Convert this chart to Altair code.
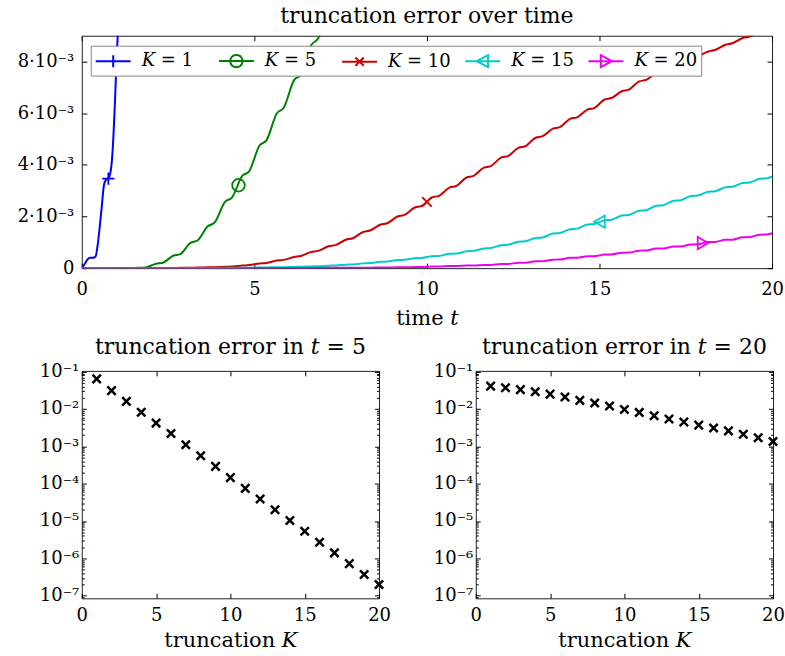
import math
import altair as alt
import pandas as pd

FONT = "DejaVu Serif"
BLACK = "#000000"

# ---------------- data (top panel, error in units of 1e-3) ----------------
series_names = ["𝐾 = 1", "𝐾 = 5", "𝐾 = 10", "𝐾 = 15", "𝐾 = 20"]
series_colors = ["#0000ff", "#008000", "#cc0000", "#00cccc", "#ee00ee"]

k1_t = [0, 0.08, 0.16, 0.24, 0.32, 0.40, 0.46, 0.52, 0.58, 0.64, 0.70, 0.77,
        0.83, 0.88, 0.92, 0.96, 1.00, 1.04, 1.10]
k1_err = [0, 0.15, 0.33, 0.40, 0.40, 0.45, 0.9, 1.6, 2.4, 3.2, 3.42, 3.47,
          3.7, 4.3, 5.2, 6.4, 7.8, 9.0, 10.8]

# sample times: start / end of each plateau of the oscillation (period 0.5)
plateau_t = [0.0] + [round(0.5 * k + off, 2) for k in range(40) for off in (0.15, 0.35)] + [20.0]

k5_err = [0, 0, 0, 0, 0, 0.002, 0.004, 0.015, 0.03, 0.17, 0.21, 0.48, 0.54,
          0.98, 1.07, 1.62, 1.77, 2.57, 2.73, 3.57, 3.75, 4.75, 4.95, 5.99, 6.21,
          7.28, 7.5, 8.64, 8.9, 10.1, 10.35]

k10_err = [0, 0, 0, 0, 0, 0, 0, 0.001, 0.002, 0.004, 0.006, 0.009, 0.011,
           0.018, 0.022, 0.032, 0.038, 0.055, 0.065, 0.10, 0.12, 0.18, 0.20,
           0.30, 0.32, 0.43, 0.47, 0.63, 0.67, 0.85, 0.89, 1.10, 1.16, 1.40, 1.46,
           1.68, 1.74, 2.00, 2.06, 2.35, 2.41, 2.74, 2.80, 3.12, 3.18, 3.51, 3.57,
           3.89, 3.95, 4.28, 4.34, 4.66, 4.72, 5.05, 5.11, 5.40, 5.46, 5.78, 5.84,
           6.14, 6.20, 6.53, 6.59, 6.85, 6.91, 7.23, 7.29, 7.56, 7.62, 7.87, 7.93,
           8.14, 8.20, 8.39, 8.45, 8.65, 8.71, 8.91, 8.97, 9.17, 9.23, 9.30]

k15_err = [0, 0, 0, 0, 0, 0, 0, 0, 0, 0, 0, 0.001, 0.002, 0.004, 0.005,
           0.007, 0.009, 0.011, 0.013, 0.017, 0.019, 0.024, 0.027, 0.033, 0.037,
           0.048, 0.052, 0.067, 0.073, 0.097, 0.103, 0.136, 0.144, 0.185, 0.195,
           0.245, 0.255, 0.315, 0.325, 0.385, 0.395, 0.465, 0.475, 0.555, 0.565,
           0.65, 0.67, 0.76, 0.78, 0.89, 0.91, 1.02, 1.04, 1.17, 1.19, 1.34, 1.36,
           1.51, 1.53, 1.69, 1.71, 1.85, 1.87, 2.04, 2.06, 2.22, 2.24, 2.42, 2.44,
           2.61, 2.63, 2.79, 2.81, 2.96, 2.98, 3.13, 3.15, 3.30, 3.32, 3.46, 3.48,
           3.55]

k20_err = [0, 0, 0, 0, 0, 0, 0, 0, 0, 0, 0, 0, 0, 0, 0, 0, 0, 0, 0, 0, 0,
           0.002, 0.002, 0.004, 0.004, 0.006, 0.006, 0.008, 0.008, 0.011, 0.011,
           0.015, 0.015, 0.020, 0.020, 0.026, 0.026, 0.034, 0.034, 0.045, 0.045,
           0.060, 0.060, 0.079, 0.081, 0.099, 0.101, 0.124, 0.126, 0.159, 0.161,
           0.209, 0.211, 0.268, 0.272, 0.328, 0.332, 0.398, 0.402, 0.458, 0.462,
           0.528, 0.532, 0.598, 0.602, 0.678, 0.682, 0.758, 0.762, 0.838, 0.842,
           0.918, 0.922, 1.008, 1.012, 1.098, 1.102, 1.198, 1.202, 1.298, 1.302,
           1.35]

marker_t = [0.77, 4.54, 10.0, 15.0, 18.0]
marker_err = [3.47, 3.21, 2.57, 1.80, 0.97]

# ---------------- data (bottom panels) ----------------
K_values = list(range(1, 21))
err_t5 = [0.064, 0.031, 0.016, 0.0082, 0.0042, 0.0022, 0.0011, 0.00056, 0.00029,
          0.000145, 7.5e-5, 3.9e-5, 2.0e-5, 1.03e-5, 5.3e-6, 2.7e-6, 1.4e-6,
          7.2e-7, 3.7e-7, 2.0e-7]
err_t20 = [0.041, 0.037, 0.033, 0.029, 0.025, 0.021, 0.017, 0.0145, 0.012,
           0.0097, 0.0081, 0.0066, 0.0054, 0.0045, 0.0037, 0.0031, 0.0026,
           0.0021, 0.0017, 0.00135]

x_tick_values = [0, 5, 10, 15, 20]
y_tick_values_top = [0, 2, 4, 6, 8]

# ---------------- styles ----------------
PLUS = "M-1,0L1,0M0,-1L0,1"
XSHAPE = "M-1,-1L1,1M-1,1L1,-1"
marker_shapes = [PLUS, "circle", XSHAPE, "triangle-left", "triangle-right"]
marker_sizes = [150, 160, 90, 150, 150]


def circle_poly(cx, r, n=24):
    pts = ["%s%.3f,%.3f" % ("M" if i == 0 else "L", cx + r * math.cos(2 * math.pi * i / n),
                            r * math.sin(2 * math.pi * i / n)) for i in range(n)]
    return "".join(pts) + "Z"


# legend handles: a line segment with the marker in its middle (unit = 10 px)
LINE = "M-1,0L2.5,0"
legend_paths = [
    LINE + "M0.75,-0.6L0.75,0.6",
    LINE + circle_poly(0.75, 0.62),
    LINE + "M0.33,-0.42L1.17,0.42M0.33,0.42L1.17,-0.42",
    LINE + "M0.15,0L1.27,-0.6L1.27,0.6Z",
    LINE + "M1.35,0L0.23,-0.6L0.23,0.6Z",
]

lines_rows = []
for name, ts, vs in zip(series_names,
                        [k1_t, plateau_t, plateau_t, plateau_t, plateau_t],
                        [k1_err, k5_err, k10_err, k15_err, k20_err]):
    for t, v in zip(ts, vs):
        lines_rows.append({"series": name, "t": t, "err": v})
lines_df = pd.DataFrame(lines_rows)
markers_df = pd.DataFrame({"series": series_names, "t": marker_t, "err": marker_err})


def in_axis(orient, values, dash, labels=False, **kw):
    opts = dict(orient=orient, values=values, grid=True, gridDash=dash,
                gridColor=BLACK, gridWidth=1, gridOpacity=1, ticks=False,
                domain=False, labels=labels)
    if not labels:
        opts.update(title=None, minExtent=0, maxExtent=0)
    opts.update(kw)
    return alt.Axis(**opts)


TICK = [5, 4000]

# ---------------- top panel ----------------
xs_top = alt.Scale(domain=[0, 20], nice=False, zero=False)
ys_top = alt.Scale(domain=[0, 9], nice=False, zero=False)

layers = []
for i, (name, col) in enumerate(zip(series_names, series_colors)):
    sub = lines_df[lines_df["series"] == name]
    xa = in_axis("bottom", x_tick_values, TICK, labels=True, title="time 𝑡",
                 labelPadding=12.5, titlePadding=8.5) if i == 0 else None
    ya = in_axis("left", y_tick_values_top, TICK, labels=True, title=None,
                 labelPadding=8, minExtent=78, maxExtent=78,
                 labelExpr="datum.value == 0 ? '0' : datum.value + '·10⁻³'") if i == 0 else None
    layers.append(
        alt.Chart(sub).mark_line(clip=True, color=col, strokeWidth=2, interpolate="monotone").encode(
            x=alt.X("t:Q", scale=xs_top, axis=xa),
            y=alt.Y("err:Q", scale=ys_top, axis=ya),
        )
    )

for i, (name, col) in enumerate(zip(series_names, series_colors)):
    sub = markers_df[markers_df["series"] == name]
    xa = in_axis("top", x_tick_values, TICK) if i == 0 else None
    ya = in_axis("right", y_tick_values_top, TICK) if i == 0 else None
    layers.append(
        alt.Chart(sub).mark_point(filled=False, color=col, strokeWidth=1.8, opacity=1,
                                  shape=marker_shapes[i], size=marker_sizes[i]).encode(
            x=alt.X("t:Q", scale=xs_top, axis=xa),
            y=alt.Y("err:Q", scale=ys_top, axis=ya),
        )
    )

leg = alt.Legend(title=None, orient="none", legendX=9, legendY=10, direction="horizontal",
                 gridAlign="all", symbolSize=400, symbolStrokeWidth=2, labelOffset=25,
                 columnPadding=10.5, padding=4, fillColor="white", strokeColor="#888888",
                 labelFont=FONT, labelFontSize=18, labelColor=BLACK)
layers.append(
    alt.Chart(lines_df).transform_filter("false").mark_point(filled=False, strokeWidth=2, opacity=1).encode(
        x=alt.X("t:Q", scale=xs_top, axis=None),
        y=alt.Y("err:Q", scale=ys_top, axis=None),
        color=alt.Color("series:N", scale=alt.Scale(domain=series_names, range=series_colors), legend=leg),
        shape=alt.Shape("series:N", scale=alt.Scale(domain=series_names, range=legend_paths), legend=leg),
    )
)

top = alt.layer(*layers).resolve_axis(x="independent", y="independent").properties(
    width=692, height=233,
    title=alt.TitleParams("truncation error over time", frame="group", anchor="middle", offset=8),
)

# ---------------- bottom panels ----------------
log_ticks = [m * 10.0 ** e for e in range(-8, 0) for m in range(1, 10)]
log_ticks = [v for v in log_ticks if 8.5e-8 <= v <= 0.1001]
IS_MAJOR = "abs(log(datum.value)/LN10 - round(log(datum.value)/LN10)) < 0.01"
LOG_LABEL = ("%s ? '10⁻' + substring('⁰¹²³⁴⁵⁶⁷⁸⁹', -round(log(datum.value)/LN10), "
             "1 - round(log(datum.value)/LN10)) : ''" % IS_MAJOR)
LOG_DASH = {"condition": {"test": IS_MAJOR, "value": [4.5, 4000]}, "value": [2.5, 4000]}

xs_bot = alt.Scale(domain=[0, 20], nice=False, zero=False)
ys_bot = alt.Scale(type="log", domain=[8.5e-8, 0.105], nice=False)


def log_panel(values, title):
    df = pd.DataFrame({"K": K_values, "err": values})
    pts = alt.Chart(df).mark_point(shape=XSHAPE, size=70, filled=False, color=BLACK,
                                   strokeWidth=2.5, opacity=1).encode(
        x=alt.X("K:Q", scale=xs_bot,
                axis=in_axis("bottom", x_tick_values, TICK, labels=True, title="truncation 𝐾",
                             labelPadding=8, titlePadding=5)),
        y=alt.Y("err:Q", scale=ys_bot,
                axis=in_axis("left", log_ticks, LOG_DASH, labels=True, title=None,
                             labelPadding=3, minExtent=78, maxExtent=78, labelExpr=LOG_LABEL)),
    )
    frame_axes = alt.Chart(df).mark_point(opacity=0).encode(
        x=alt.X("K:Q", scale=xs_bot, axis=in_axis("top", x_tick_values, TICK)),
        y=alt.Y("err:Q", scale=ys_bot, axis=in_axis("right", log_ticks, LOG_DASH)),
    )
    return alt.layer(pts, frame_axes).resolve_axis(x="independent", y="independent").properties(
        width=298, height=228,
        title=alt.TitleParams(title, frame="group", anchor="middle", offset=4),
    )


bottom = alt.hconcat(log_panel(err_t5, "truncation error in 𝑡 = 5"),
                     log_panel(err_t20, "truncation error in 𝑡 = 20"), spacing=6)

chart = alt.vconcat(top, bottom, spacing=6).properties(
    padding={"left": 3, "top": 3, "right": 0, "bottom": 0},
    background="white",
).configure_view(stroke="#222222", strokeWidth=1).configure_axis(
    labelFont=FONT, labelFontSize=18, labelColor=BLACK, titleFont=FONT, titleFontSize=21,
    titleFontWeight="normal", titleColor=BLACK, labelFlush=False, labelOverlap=False,
).configure_title(font=FONT, fontSize=22, fontWeight="normal", color=BLACK)

chart.save("out.html", embed_options={"renderer": "svg", "actions": False})
